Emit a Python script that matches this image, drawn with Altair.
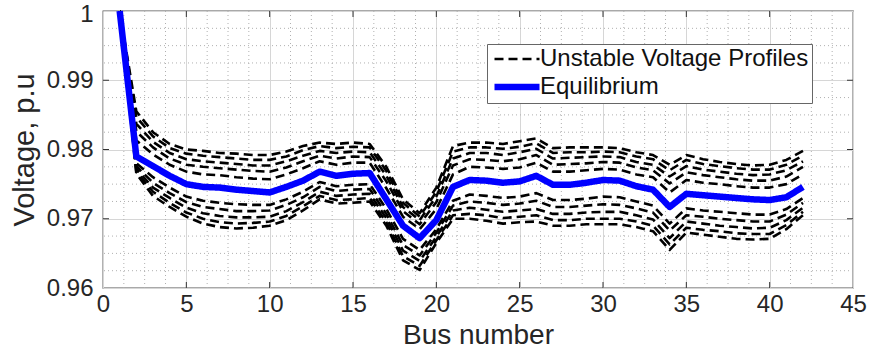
import altair as alt
import pandas as pd

# Bus indices of the feeder
bus = list(range(1, 43))

# Equilibrium voltage profile (p.u.)
equilibrium = [1.0, .9790, .9776, .9762, .9750, .9746, .9745, .9742, .9740, .9738,
               .9746, .9755, .9768, .9762, .9765, .9766, .9728, .9690, .9672, .9698,
               .9746, .9756, .9755, .9752, .9754, .9762, .9749, .9749, .9752, .9756,
               .9755, .9747, .9742, .9717, .9736, .9734, .9732, .9730, .9728, .9727,
               .9731, .9746]

# Unstable voltage profiles (p.u.), above the equilibrium
profile_a = [1.0, .9813, .9793, .9778, .9768, .9764, .9763, .9760, .9758, .9757,
             .9764, .9773, .9783, .9778, .9781, .9781, .9744, .9703, .9685, .9714,
             .9764, .9775, .9774, .9772, .9774, .9781, .9768, .9768, .9770, .9772,
             .9771, .9764, .9760, .9738, .9756, .9752, .9750, .9747, .9745, .9745,
             .9750, .9764]
profile_b = [1.0, .9826, .9803, .9787, .9778, .9775, .9773, .9771, .9769, .9768,
             .9774, .9783, .9791, .9787, .9790, .9789, .9754, .9711, .9692, .9724,
             .9777, .9786, .9785, .9783, .9786, .9792, .9778, .9779, .9780, .9782,
             .9781, .9774, .9770, .9751, .9767, .9763, .9760, .9757, .9755, .9755,
             .9761, .9775]
profile_c = [1.0, .9837, .9811, .9795, .9786, .9783, .9781, .9779, .9777, .9777,
             .9783, .9791, .9798, .9795, .9797, .9796, .9762, .9717, .9698, .9732,
             .9787, .9795, .9795, .9792, .9796, .9801, .9787, .9788, .9789, .9790,
             .9789, .9782, .9778, .9761, .9776, .9771, .9768, .9765, .9763, .9764,
             .9770, .9783]
profile_d = [1.0, .9847, .9819, .9802, .9794, .9791, .9789, .9787, .9785, .9785,
             .9790, .9799, .9805, .9802, .9804, .9803, .9769, .9723, .9703, .9739,
             .9797, .9803, .9803, .9801, .9804, .9809, .9795, .9796, .9796, .9797,
             .9796, .9790, .9786, .9770, .9785, .9779, .9776, .9773, .9771, .9771,
             .9778, .9791]
profile_e = [1.0, .9855, .9825, .9808, .9800, .9798, .9795, .9794, .9792, .9792,
             .9797, .9805, .9810, .9808, .9810, .9808, .9775, .9728, .9708, .9745,
             .9805, .9810, .9810, .9808, .9812, .9816, .9802, .9803, .9803, .9803,
             .9802, .9796, .9792, .9778, .9792, .9786, .9782, .9779, .9777, .9778,
             .9785, .9798]

# Unstable voltage profiles (p.u.), below the equilibrium
profile_f = [1.0, .9780, .9760, .9745, .9732, .9726, .9723, .9721, .9720, .9720,
             .9728, .9739, .9753, .9747, .9749, .9750, .9714, .9671, .9655, .9685,
             .9726, .9735, .9733, .9730, .9732, .9737, .9727, .9727, .9729, .9732,
             .9731, .9725, .9719, .9693, .9715, .9712, .9710, .9708, .9706, .9706,
             .9714, .9730]
profile_g = [1.0, .9776, .9752, .9737, .9724, .9717, .9714, .9711, .9711, .9712,
             .9720, .9731, .9746, .9740, .9742, .9743, .9707, .9662, .9647, .9680,
             .9719, .9725, .9723, .9720, .9722, .9726, .9717, .9717, .9719, .9721,
             .9720, .9715, .9709, .9683, .9705, .9703, .9700, .9698, .9696, .9696,
             .9706, .9723]
profile_h = [1.0, .9772, .9745, .9730, .9716, .9708, .9704, .9702, .9702, .9703,
             .9711, .9724, .9739, .9733, .9735, .9736, .9701, .9654, .9639, .9674,
             .9712, .9716, .9713, .9710, .9712, .9714, .9707, .9707, .9709, .9710,
             .9710, .9705, .9699, .9672, .9696, .9693, .9690, .9688, .9686, .9687,
             .9698, .9716]
profile_i = [1.0, .9768, .9739, .9723, .9709, .9700, .9695, .9693, .9694, .9696,
             .9704, .9718, .9733, .9727, .9728, .9730, .9695, .9646, .9632, .9669,
             .9705, .9707, .9705, .9701, .9703, .9705, .9698, .9698, .9700, .9700,
             .9700, .9696, .9690, .9663, .9687, .9684, .9682, .9679, .9678, .9678,
             .9691, .9710]
profile_j = [1.0, .9765, .9733, .9717, .9703, .9693, .9688, .9686, .9687, .9690,
             .9698, .9712, .9728, .9722, .9723, .9725, .9690, .9640, .9626, .9665,
             .9700, .9700, .9697, .9693, .9695, .9696, .9690, .9690, .9692, .9692,
             .9692, .9688, .9682, .9655, .9680, .9677, .9674, .9671, .9670, .9671,
             .9685, .9705]

# Axis ticks
x_major = [0, 5, 10, 15, 20, 25, 30, 35, 40, 45]
y_major = [0.96, 0.97, 0.98, 0.99, 1.0]
x_minor = [1.25, 2.5, 3.75, 6.25, 7.5, 8.75, 11.25, 12.5, 13.75, 16.25, 17.5, 18.75,
           21.25, 22.5, 23.75, 26.25, 27.5, 28.75, 31.25, 32.5, 33.75, 36.25, 37.5,
           38.75, 41.25, 42.5, 43.75]
y_minor = [0.9625, 0.965, 0.9675, 0.9725, 0.975, 0.9775, 0.9825, 0.985, 0.9875,
           0.9925, 0.995, 0.9975]
x_inner = [5, 10, 15, 20, 25, 30, 35, 40]
y_inner = [0.97, 0.98, 0.99]

UNSTABLE = "Unstable Voltage Profiles"
EQUIL = "Equilibrium"
kinds = [UNSTABLE, EQUIL]

unstable = {"a": profile_a, "b": profile_b, "c": profile_c, "d": profile_d,
            "e": profile_e, "f": profile_f, "g": profile_g, "h": profile_h,
            "i": profile_i, "j": profile_j}

rows = []
for name, vals in unstable.items():
    for b, v in zip(bus, vals):
        rows.append({"bus": b, "voltage": v, "profile": name, "kind": UNSTABLE})
df_unstable = pd.DataFrame(rows)
df_eq = pd.DataFrame({"bus": bus, "voltage": equilibrium, "profile": "eq", "kind": EQUIL})

FONT = "Liberation Sans"
TXT = "#262626"
W, H = 750, 277

x_scale = alt.Scale(domain=[0, 45], nice=False)
y_scale = alt.Scale(domain=[0.96, 1.0], nice=False, zero=False)

color_scale = alt.Scale(domain=kinds, range=["#000000", "#0000ff"])
dash_scale = alt.Scale(domain=kinds, range=[[9, 5], [1, 0]])
width_scale = alt.Scale(domain=kinds, range=[2.6, 6.5])

legend = alt.Legend(
    title=None, orient="none", legendX=384, legendY=33, direction="vertical",
    symbolType="M-1,0H5", symbolSize=225, labelFont=FONT, labelFontSize=24,
    labelColor="#111111", labelOffset=26, labelLimit=400, padding=3,
    strokeColor="#666666", fillColor="white", rowPadding=3,
)

x_axis = alt.Axis(values=x_major, title="Bus number", grid=True, gridColor="#d6d6d6",
                  gridWidth=1, domain=False, ticks=False, labelFont=FONT,
                  labelFontSize=24, labelColor=TXT, labelPadding=4, format="d",
                  titleFont=FONT, titleFontSize=28, titleFontWeight="normal",
                  titleColor=TXT, titlePadding=5, labelFlush=False)
y_axis = alt.Axis(values=y_major, title="Voltage, p.u", grid=True, gridColor="#d6d6d6",
                  gridWidth=1, domain=False, ticks=False, labelFont=FONT,
                  labelFontSize=24, labelColor=TXT, labelPadding=10, format="~g",
                  labelOffset=alt.condition("datum.value >= 0.999", alt.value(3), alt.value(0)),
                  titleFont=FONT, titleFontSize=29, titleFontWeight="normal",
                  titleColor=TXT, titlePadding=7, labelFlush=False)

# Every layer uses the same field names so the axes merge into one pair
X = alt.X("bus:Q", scale=x_scale, axis=x_axis)
Y = alt.Y("voltage:Q", scale=y_scale, axis=y_axis)

# Dotted minor grid
minor_v = alt.Chart(pd.DataFrame({"bus": x_minor})).mark_rule(
    color="#b0b0b0", strokeWidth=1, strokeDash=[1, 3]
).encode(x=X)
minor_h = alt.Chart(pd.DataFrame({"voltage": y_minor})).mark_rule(
    color="#b0b0b0", strokeWidth=1, strokeDash=[1, 3]
).encode(y=Y)

line_enc = dict(
    x=X, y=Y,
    color=alt.Color("kind:N", scale=color_scale, legend=legend),
    strokeDash=alt.StrokeDash("kind:N", scale=dash_scale, legend=legend),
    strokeWidth=alt.StrokeWidth("kind:N", scale=width_scale, legend=legend),
)

dashed = alt.Chart(df_unstable).mark_line(strokeCap="butt", strokeJoin="round").encode(
    detail="profile:N", **line_enc
)
solid = alt.Chart(df_eq).mark_line(strokeJoin="round").encode(**line_enc)

# Inward tick marks on all four sides
tick_style = dict(color="#333333", strokeWidth=1)
xt = pd.DataFrame({"bus": x_inner})
yt = pd.DataFrame({"voltage": y_inner})
tick_bottom = alt.Chart(xt).mark_rule(**tick_style).encode(
    x=X, y=alt.value(H), y2=alt.value(H - 6))
tick_top = alt.Chart(xt).mark_rule(**tick_style).encode(
    x=X, y=alt.value(0), y2=alt.value(6))
tick_left = alt.Chart(yt).mark_rule(**tick_style).encode(
    y=Y, x=alt.value(0), x2=alt.value(6))
tick_right = alt.Chart(yt).mark_rule(**tick_style).encode(
    y=Y, x=alt.value(W), x2=alt.value(W - 6))

chart = alt.layer(
    minor_v, minor_h, dashed, solid, tick_bottom, tick_top, tick_left, tick_right
).properties(
    width=W, height=H,
    autosize=alt.AutoSizeParams(type="none"),
    padding={"left": 103, "top": 11, "right": 18, "bottom": 63},
    background="white",
).configure_view(
    stroke="#555555", strokeWidth=1.3
)

chart.save("out.html", embed_options={"renderer": "svg", "actions": False})
